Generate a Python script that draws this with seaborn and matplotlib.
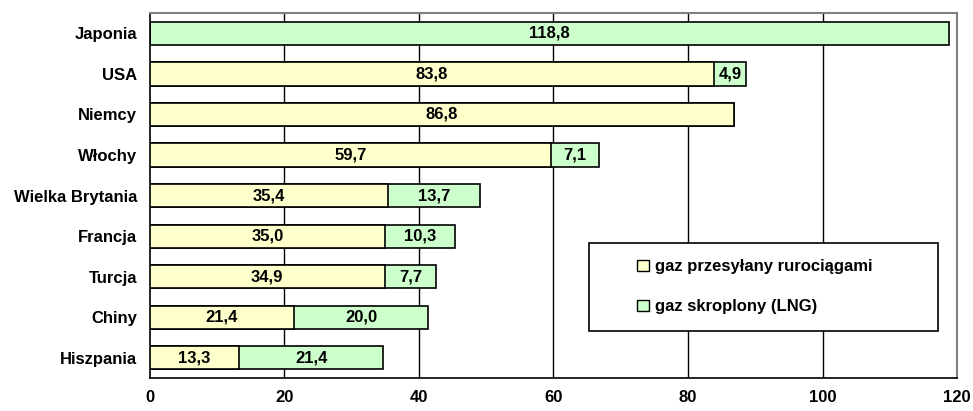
import matplotlib
matplotlib.use("Agg")
import matplotlib.pyplot as plt
import seaborn as sns
import pandas as pd
import numpy as np
from matplotlib.patches import Rectangle, Patch

countries = ["Japonia", "USA", "Niemcy", "Włochy", "Wielka Brytania",
             "Francja", "Turcja", "Chiny", "Hiszpania"]
pipeline = [0.0, 83.8, 86.8, 59.7, 35.4, 35.0, 34.9, 21.4, 13.3]
lng = [118.8, 4.9, 0.0, 7.1, 13.7, 10.3, 7.7, 20.0, 21.4]
series_names = ["gaz przesyłany rurociągami", "gaz skroplony (LNG)"]
xticks = [0, 20, 40, 60, 80, 100, 120]

YELLOW = "#FFFFCC"
GREEN = "#CCFFCC"

sns.set_style("white")
plt.rcParams["font.family"] = ["Liberation Sans", "DejaVu Sans"]
plt.rcParams["font.weight"] = "bold"
plt.rcParams["text.color"] = "black"
plt.rcParams["xtick.color"] = "black"
plt.rcParams["ytick.color"] = "black"

df = pd.DataFrame({"kraj": countries, "rurociagi": pipeline, "lng": lng})
df["suma"] = df["rurociagi"] + df["lng"]

fig = plt.figure(figsize=(9.73, 4.11), dpi=100)
ax = fig.add_axes([0.154, 0.0803, 0.9836 - 0.154, 0.968 - 0.0803])

for x in xticks[1:-1]:
    ax.axvline(x, color="black", lw=1.0, zorder=0)

sns.barplot(data=df, y="kraj", x="suma", orient="h", color=GREEN,
            edgecolor="black", linewidth=1.2, width=0.57, ax=ax, zorder=2,
            saturation=1)
sns.barplot(data=df, y="kraj", x="rurociagi", orient="h", color=YELLOW,
            edgecolor="black", linewidth=1.2, width=0.57, ax=ax, zorder=3,
            saturation=1)

fs = 12
for i, (p, l) in enumerate(zip(pipeline, lng)):
    if p > 0:
        ax.text(p / 2, i, f"{p:.1f}".replace(".", ","), ha="center", va="center",
                fontsize=fs, fontweight="bold", color="black", zorder=5)
    if l > 0:
        ax.text(p + l / 2, i, f"{l:.1f}".replace(".", ","), ha="center", va="center",
                fontsize=fs, fontweight="bold", color="black", zorder=5)

ax.set_xlim(0, 120)
ax.set_ylim(len(countries) - 0.5, -0.5)
ax.set_xticks(xticks)
ax.set_xticklabels([str(t) for t in xticks], fontsize=fs, fontweight="bold")
ax.set_yticks(range(len(countries)))
ax.set_yticklabels(countries, fontsize=fs, fontweight="bold")
ax.set_yticks(np.arange(-0.5, len(countries), 1.0), minor=True)
ax.tick_params(axis="y", which="major", length=0, pad=9)
ax.tick_params(axis="y", which="minor", length=5, width=1.2, color="black", direction="out")
ax.tick_params(axis="x", which="major", length=5, width=1.2, color="black", direction="out", pad=4)
ax.set_xlabel("")
ax.set_ylabel("")

for s in ["left", "bottom"]:
    ax.spines[s].set_color("black")
    ax.spines[s].set_linewidth(1.2)
for s in ["top", "right"]:
    ax.spines[s].set_color("#808080")
    ax.spines[s].set_linewidth(1.5)

# legend frame
ax.add_patch(Rectangle((0.544, 0.129), 0.432, 0.241, transform=ax.transAxes,
                       facecolor="white", edgecolor="black", lw=1.2, zorder=6))
handles = [Patch(facecolor=YELLOW, edgecolor="black", lw=1.0),
           Patch(facecolor=GREEN, edgecolor="black", lw=1.0)]
leg = ax.legend(handles, series_names, loc="center left",
                bbox_to_anchor=(0.585, 0.25), frameon=False,
                prop={"size": fs, "weight": "bold"}, handlelength=0.7,
                handleheight=0.7, handletextpad=0.4, labelspacing=1.5)
leg.set_zorder(7)

fig.savefig("out.png", dpi=100)
